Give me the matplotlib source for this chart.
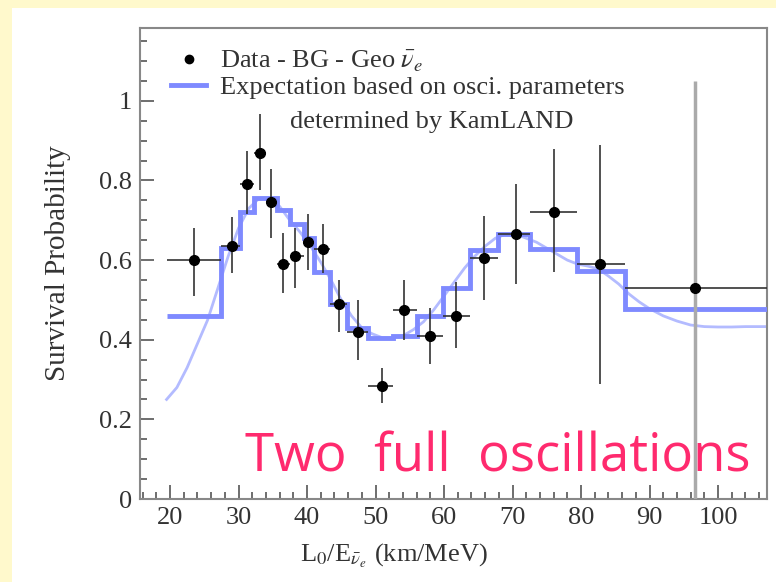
import matplotlib
matplotlib.use("Agg")
import matplotlib.pyplot as plt
from matplotlib.patches import Rectangle
from matplotlib.lines import Line2D
import numpy as np

# bin edges (km/MeV) and measured survival probability per bin
bin_edges = [19.6, 27.5, 30.2, 32.3, 34.0, 35.6, 37.5, 39.5, 41.0, 43.4, 45.8,
             48.9, 52.6, 56.0, 59.9, 63.8, 67.9, 72.6, 79.4, 86.4, 107.2]
data_x = [23.5, 29.0, 31.2, 33.2, 34.8, 36.5, 38.3, 40.1, 42.3, 44.6,
          47.4, 50.9, 54.2, 57.9, 61.8, 65.8, 70.5, 76.1, 82.8, 96.7]
data_y = [0.60, 0.635, 0.79, 0.87, 0.745, 0.59, 0.61, 0.646, 0.628, 0.49,
          0.42, 0.285, 0.475, 0.41, 0.46, 0.605, 0.665, 0.72, 0.59, 0.53]
data_lo = [0.51, 0.567, 0.717, 0.775, 0.655, 0.517, 0.53, 0.575, 0.567, 0.42,
           0.35, 0.24, 0.40, 0.34, 0.38, 0.50, 0.54, 0.57, 0.29, 0.0]
data_hi = [0.68, 0.708, 0.875, 0.967, 0.83, 0.667, 0.68, 0.717, 0.69, 0.55,
           0.50, 0.33, 0.55, 0.48, 0.545, 0.71, 0.79, 0.88, 0.89, 1.05]

# expectation, binned
expect_binned = [0.46, 0.63, 0.72, 0.755, 0.755, 0.725, 0.69, 0.655, 0.57, 0.49,
                 0.43, 0.405, 0.41, 0.46, 0.53, 0.625, 0.665, 0.627, 0.572, 0.478]

# expectation, unbinned curve
curve_x = [19.5, 21.0, 22.5, 24.0, 25.5, 27.0, 28.5, 30.0, 31.5, 33.0, 34.5, 36.0,
           37.5, 39.0, 40.5, 42.0, 43.5, 45.0, 46.5, 48.0, 49.5, 51.0, 52.5, 54.0,
           55.5, 57.0, 58.5, 60.0, 61.5, 63.0, 64.5, 66.0, 67.5, 69.0, 70.5, 72.0,
           73.5, 75.0, 76.5, 78.0, 79.5, 81.0, 82.5, 84.0, 85.5, 87.0, 88.5, 90.0,
           92.0, 94.0, 96.0, 98.0, 100.0, 102.0, 104.0, 107.2]
curve_y = [0.25, 0.28, 0.33, 0.39, 0.45, 0.53, 0.61, 0.68, 0.73, 0.755, 0.755, 0.735,
           0.70, 0.67, 0.635, 0.595, 0.55, 0.50, 0.46, 0.43, 0.415, 0.405, 0.405, 0.41,
           0.425, 0.445, 0.475, 0.51, 0.545, 0.58, 0.61, 0.635, 0.655, 0.665, 0.665, 0.655,
           0.645, 0.63, 0.615, 0.60, 0.59, 0.585, 0.578, 0.56, 0.54, 0.515, 0.495, 0.478,
           0.46, 0.447, 0.437, 0.433, 0.432, 0.432, 0.433, 0.433]

x_ticks = [20, 30, 40, 50, 60, 70, 80, 90, 100]
y_ticks = [0, 0.2, 0.4, 0.6, 0.8, 1]
y_tick_labels = ["0", "0.2", "0.4", "0.6", "0.8", "1"]

plt.rcParams["font.family"] = ["Liberation Serif", "DejaVu Serif"]
plt.rcParams["mathtext.fontset"] = "stix"

W, H = 776, 582
fig = plt.figure(figsize=(W / 100, H / 100), dpi=100)
fig.patch.set_facecolor("#fff9cc")
fig.add_artist(Rectangle((12 / W, 0), 1, 1 - 8 / H, transform=fig.transFigure,
                         facecolor="white", edgecolor="none", zorder=-10))

ax = fig.add_axes([140 / W, 83 / H, 627 / W, 471 / H])
ax.set_xlim(15.62, 107.15)
ax.set_ylim(0, 1.183)

blue = "#7f8aff"
light_blue = "#b3bbff"

ax.plot(curve_x, curve_y, color=light_blue, lw=2, zorder=2)
ax.stairs(expect_binned, bin_edges, baseline=None, color=blue, lw=3.5, zorder=3)

x = np.array(data_x)
y = np.array(data_y)
edges = np.array(bin_edges)
xerr = [x - edges[:-1], edges[1:] - x]
yerr = [y - np.array(data_lo), np.array(data_hi) - y]
eb = ax.errorbar(x, y, xerr=xerr, yerr=yerr, fmt="o", color="black", ms=7,
                 ecolor="#333333", elinewidth=1.2, capsize=0, zorder=4)
# the last point's vertical bar is drawn lighter and wider
ycol = eb[2][1]
ycol.set_color(["#333333"] * (len(x) - 1) + ["#aaaaaa"])
ycol.set_linewidth([1.2] * (len(x) - 1) + [2.5])

ax.set_xticks(x_ticks)
ax.set_yticks(y_ticks)
ax.set_yticklabels(y_tick_labels)
ax.set_xticks(np.arange(16, 108, 2), minor=True)
ax.set_yticks(np.arange(0, 1.2, 0.05), minor=True)
ax.tick_params(which="both", direction="in", top=False, right=False,
               labelsize=19, colors="#555555", labelcolor="#333333", width=1.2)
ax.tick_params(which="major", length=10, pad=6)
ax.tick_params(which="minor", length=5)
for s in ax.spines.values():
    s.set_color("#888888")
    s.set_linewidth(1.5)

ax.set_ylabel("Survival Probability", fontsize=21, color="#333333")
ax.yaxis.set_label_coords(-0.11, 0.5)
ax.set_xlabel(r"L$_0$/E$_{\bar{\nu}_e}$ (km/MeV)", fontsize=19, color="#333333")
ax.xaxis.set_label_coords(0.405, -0.09)

handles = [Line2D([], [], ls="none", marker="o", color="black", ms=6),
           Line2D([], [], color=blue, lw=3.5)]
labels = [r"Data - BG - Geo $\bar{\nu}_e$", "Expectation based on osci. parameters"]
ax.legend(handles, labels, loc="upper left", bbox_to_anchor=(0.05, 0.955),
          frameon=False, fontsize=19, handlelength=1.3, handletextpad=0.55,
          labelspacing=0.05, borderpad=0, borderaxespad=0, labelcolor="#333333")
ax.text(0.24, 0.80, "determined by KamLAND", transform=ax.transAxes,
        fontsize=19, color="#333333", va="center", ha="left")

fig.text(245 / W, (H - 472) / H, "Two  full  oscillations",
         fontsize=38, color="#ff2a6e", family=["Open Sans", "DejaVu Sans"],
         fontweight="medium", va="baseline", ha="left")

fig.savefig("out.png", dpi=100, facecolor=fig.get_facecolor())
